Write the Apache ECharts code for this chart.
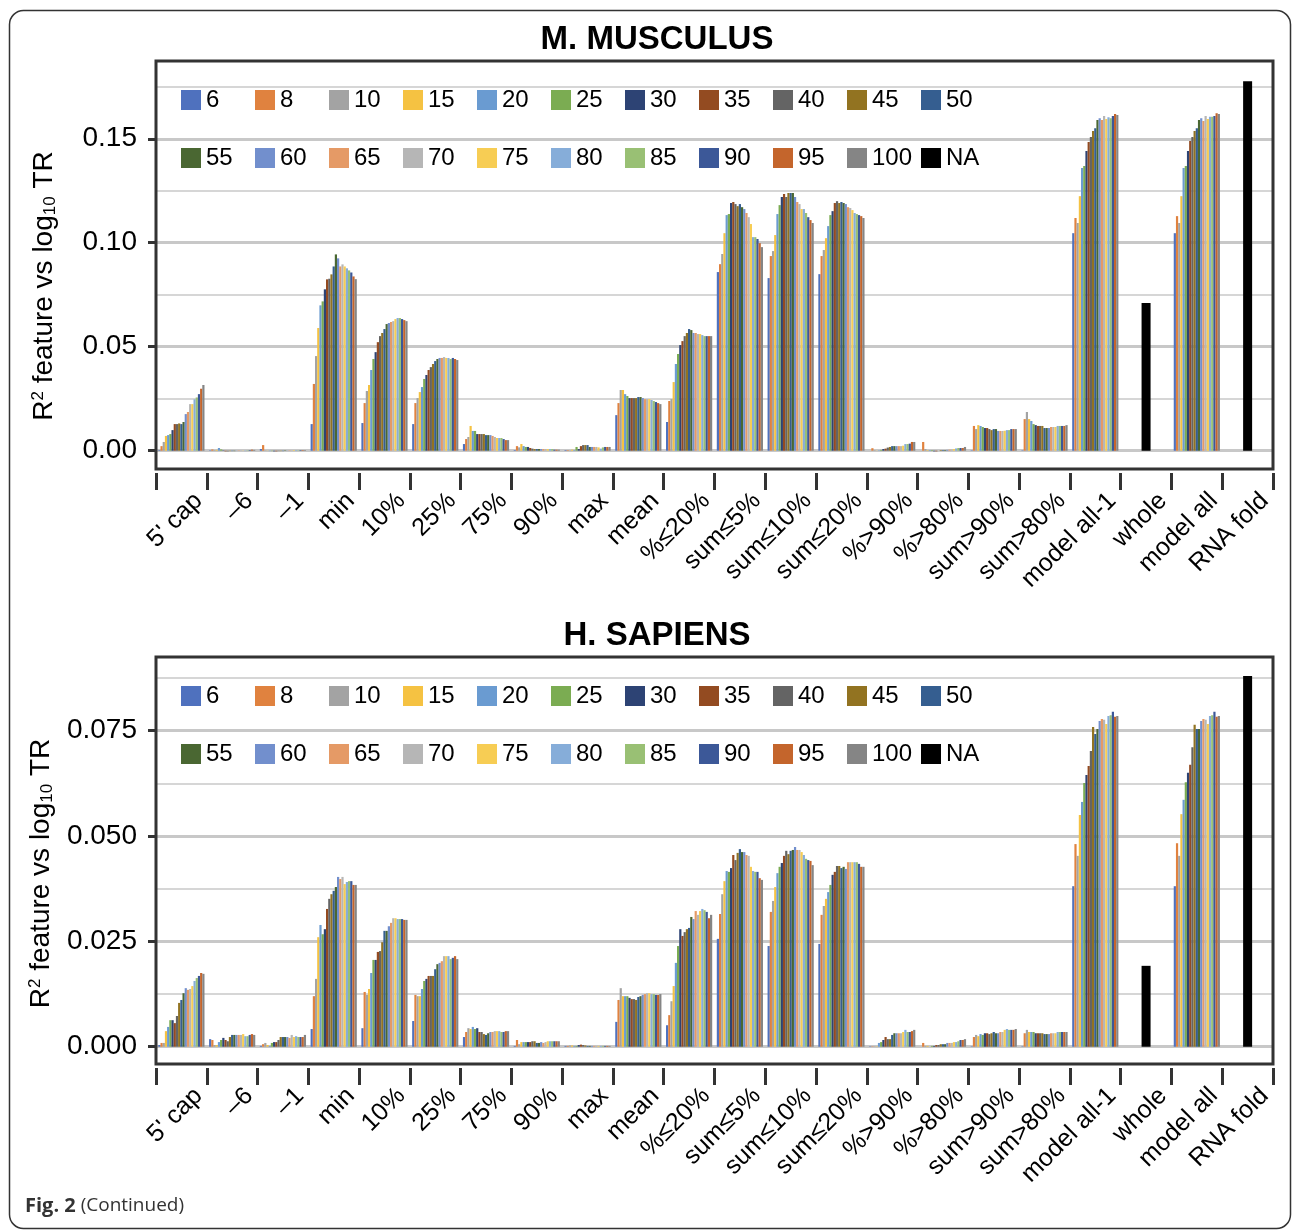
<!DOCTYPE html>
<html>
<head>
<meta charset="utf-8">
<script src="https://cdn.jsdelivr.net/npm/echarts@6/dist/echarts.min.js"></script>
<style>
  html, body { margin: 0; background: #fff; }
  #chart { width: 1292px; height: 1232px; }
</style>
</head>
<body>
<div id="chart"></div>
<script>
const categories = ["5' cap", "\u20136", "\u20131", "min", "10%", "25%", "75%", "90%", "max", "mean",
  "%\u226420%", "sum\u22645%", "sum\u226410%", "sum\u226420%", "%>90%", "%>80%", "sum>90%", "sum>80%",
  "model all-1", "whole", "model all", "RNA fold"];

const sizes = ["6", "8", "10", "15", "20", "25", "30", "35", "40", "45", "50",
  "55", "60", "65", "70", "75", "80", "85", "90", "95", "100"];

// one row per category, one value per size (null = category only has the NA bar)
const musculusRows = [
  [0.0003,0.0022,0.0042,0.0071,0.0075,0.0080,0.0099,0.0128,0.0128,0.0131,0.0128,0.0138,0.0176,0.0186,0.0224,0.0224,0.0247,0.0256,0.0272,0.0298,0.0316],
  [0.0002,0.0006,0.0003,0.0004,0.0013,0.0006,0.0002,-0.0003,-0.0003,-0.0002,-0.0002,-0.0002,0.0001,0.0002,0.0002,0.0001,-0.0002,0.0002,0.0003,0.0005,0.0004],
  [0.0008,0.0027,0.0002,0.0001,-0.0002,-0.0002,-0.0003,-0.0003,-0.0002,-0.0002,-0.0002,0.0002,0.0001,0.0002,0.0002,0.0003,0.0003,0.0002,0.0003,0.0003,0.0003],
  [0.0128,0.0321,0.0455,0.0590,0.0699,0.0718,0.0776,0.0824,0.0827,0.0848,0.0886,0.0944,0.0925,0.0886,0.0896,0.0886,0.0877,0.0867,0.0857,0.0838,0.0825],
  [0.0133,0.0229,0.0287,0.0316,0.0388,0.0441,0.0474,0.0522,0.0551,0.0566,0.0585,0.0609,0.0614,0.0619,0.0623,0.0633,0.0638,0.0638,0.0633,0.0628,0.0623],
  [0.0128,0.0229,0.0253,0.0282,0.0306,0.0345,0.0364,0.0388,0.0402,0.0417,0.0431,0.0441,0.0446,0.0446,0.0450,0.0446,0.0446,0.0441,0.0446,0.0441,0.0436],
  [0.0032,0.0056,0.0066,0.0119,0.0095,0.0095,0.0080,0.0080,0.0080,0.0080,0.0075,0.0075,0.0075,0.0071,0.0066,0.0061,0.0061,0.0061,0.0056,0.0051,0.0051],
  [0.0003,0.0022,0.0016,0.0032,0.0022,0.0018,0.0018,0.0013,0.0010,0.0008,0.0008,0.0008,0.0008,0.0008,0.0008,0.0008,0.0008,0.0008,0.0005,0.0005,0.0005],
  [0.0003,0.0003,0.0002,0.0005,0.0003,0.0018,0.0008,0.0022,0.0027,0.0027,0.0027,0.0018,0.0018,0.0018,0.0018,0.0016,0.0010,0.0016,0.0018,0.0018,0.0018],
  [0.0171,0.0229,0.0292,0.0292,0.0272,0.0263,0.0253,0.0253,0.0253,0.0253,0.0258,0.0258,0.0253,0.0248,0.0248,0.0248,0.0244,0.0239,0.0234,0.0229,0.0224],
  [0.0138,0.0239,0.0248,0.0330,0.0417,0.0465,0.0508,0.0527,0.0551,0.0566,0.0585,0.0580,0.0566,0.0566,0.0561,0.0561,0.0556,0.0551,0.0551,0.0551,0.0551],
  [0.0859,0.0897,0.0946,0.1046,0.1133,0.1138,0.1191,0.1196,0.1186,0.1176,0.1186,0.1171,0.1162,0.1143,0.1123,0.1090,0.1027,0.1027,0.1018,0.0998,0.0979],
  [0.0830,0.0936,0.0960,0.1037,0.1138,0.1181,0.1220,0.1234,0.1220,0.1239,0.1239,0.1239,0.1220,0.1196,0.1186,0.1162,0.1162,0.1143,0.1123,0.1109,0.1095],
  [0.0849,0.0936,0.0965,0.1022,0.1080,0.1133,0.1152,0.1191,0.1200,0.1191,0.1196,0.1191,0.1186,0.1171,0.1167,0.1157,0.1143,0.1138,0.1133,0.1128,0.1119],
  [0.0000,0.0012,0.0003,0.0001,0.0002,0.0004,0.0008,0.0010,0.0015,0.0018,0.0022,0.0022,0.0022,0.0022,0.0022,0.0024,0.0032,0.0032,0.0034,0.0042,0.0042],
  [0.0000,0.0042,0.0008,0.0003,0.0003,0.0003,-0.0003,-0.0003,0.0000,0.0003,0.0003,0.0003,0.0004,0.0005,0.0006,0.0008,0.0011,0.0013,0.0013,0.0013,0.0018],
  [0.0002,0.0119,0.0104,0.0123,0.0119,0.0114,0.0109,0.0109,0.0104,0.0099,0.0104,0.0104,0.0095,0.0095,0.0095,0.0096,0.0099,0.0099,0.0104,0.0104,0.0104],
  [0.0002,0.0152,0.0186,0.0152,0.0143,0.0128,0.0123,0.0119,0.0119,0.0119,0.0109,0.0109,0.0109,0.0114,0.0114,0.0114,0.0119,0.0119,0.0119,0.0119,0.0123],
  [0.1046,0.1119,0.1095,0.1224,0.1359,0.1369,0.1441,0.1484,0.1508,0.1537,0.1551,0.1590,0.1599,0.1590,0.1609,0.1595,0.1603,0.1599,0.1609,0.1619,0.1614],
  null,
  [0.1046,0.1128,0.1095,0.1224,0.1359,0.1369,0.1441,0.1489,0.1508,0.1537,0.1551,0.1590,0.1599,0.1585,0.1609,0.1595,0.1606,0.1606,0.1609,0.1623,0.1619],
  null
];
const musculusNA = [null,null,null,null,null,null,null,null,null,null,null,null,null,null,null,null,null,null,null,0.0710,null,0.1777];

const sapiensRows = [
  [0.0004,0.0009,0.0009,0.0037,0.0047,0.0063,0.0063,0.0056,0.0073,0.0104,0.0111,0.0127,0.0139,0.0135,0.0137,0.0144,0.0156,0.0163,0.0168,0.0175,0.0173],
  [0.0018,0.0016,0.0004,0.0004,0.0011,0.0016,0.0021,0.0016,0.0013,0.0023,0.0028,0.0028,0.0028,0.0028,0.0028,0.0030,0.0025,0.0025,0.0028,0.0030,0.0028],
  [0.0002,0.0006,0.0009,0.0004,0.0002,0.0009,0.0011,0.0011,0.0016,0.0023,0.0023,0.0023,0.0023,0.0021,0.0028,0.0023,0.0025,0.0023,0.0023,0.0023,0.0028],
  [0.0042,0.0120,0.0161,0.0260,0.0289,0.0267,0.0279,0.0327,0.0351,0.0362,0.0370,0.0379,0.0403,0.0398,0.0403,0.0386,0.0391,0.0393,0.0393,0.0384,0.0384],
  [0.0044,0.0130,0.0123,0.0137,0.0175,0.0206,0.0206,0.0225,0.0227,0.0248,0.0275,0.0275,0.0286,0.0294,0.0305,0.0305,0.0303,0.0303,0.0303,0.0301,0.0301],
  [0.0061,0.0123,0.0120,0.0120,0.0137,0.0156,0.0161,0.0168,0.0168,0.0168,0.0184,0.0196,0.0199,0.0203,0.0215,0.0215,0.0215,0.0208,0.0211,0.0215,0.0208],
  [0.0023,0.0035,0.0044,0.0042,0.0047,0.0042,0.0044,0.0035,0.0035,0.0030,0.0028,0.0032,0.0035,0.0035,0.0037,0.0037,0.0037,0.0035,0.0035,0.0037,0.0037],
  [0.0002,0.0016,0.0006,0.0011,0.0011,0.0011,0.0011,0.0011,0.0013,0.0013,0.0009,0.0009,0.0011,0.0009,0.0011,0.0013,0.0013,0.0013,0.0013,0.0013,0.0013],
  [0.0002,0.0002,0.0003,0.0003,0.0002,0.0002,0.0004,0.0005,0.0004,0.0003,0.0002,0.0002,0.0002,0.0002,0.0002,0.0002,0.0002,0.0002,0.0002,0.0002,0.0002],
  [0.0059,0.0111,0.0139,0.0120,0.0120,0.0120,0.0116,0.0113,0.0113,0.0111,0.0118,0.0120,0.0123,0.0125,0.0127,0.0127,0.0125,0.0125,0.0123,0.0123,0.0125],
  [0.0051,0.0075,0.0108,0.0144,0.0199,0.0239,0.0279,0.0263,0.0272,0.0279,0.0282,0.0308,0.0303,0.0322,0.0313,0.0322,0.0327,0.0324,0.0320,0.0305,0.0313],
  [0.0256,0.0315,0.0362,0.0393,0.0417,0.0415,0.0424,0.0455,0.0443,0.0460,0.0469,0.0462,0.0462,0.0455,0.0453,0.0427,0.0417,0.0415,0.0415,0.0400,0.0396],
  [0.0239,0.0320,0.0346,0.0379,0.0412,0.0427,0.0436,0.0453,0.0465,0.0457,0.0465,0.0467,0.0474,0.0467,0.0467,0.0462,0.0455,0.0446,0.0443,0.0441,0.0431],
  [0.0244,0.0313,0.0334,0.0351,0.0367,0.0384,0.0408,0.0415,0.0429,0.0429,0.0424,0.0427,0.0422,0.0438,0.0438,0.0438,0.0438,0.0438,0.0434,0.0427,0.0427],
  [0.0001,0.0001,0.0001,0.0001,0.0009,0.0011,0.0016,0.0023,0.0018,0.0018,0.0028,0.0032,0.0032,0.0032,0.0032,0.0035,0.0040,0.0035,0.0035,0.0037,0.0040],
  [0.0000,0.0009,0.0002,0.0002,0.0000,0.0002,0.0002,0.0004,0.0004,0.0006,0.0006,0.0006,0.0009,0.0009,0.0009,0.0011,0.0011,0.0013,0.0016,0.0016,0.0018],
  [0.0001,0.0023,0.0028,0.0025,0.0030,0.0028,0.0032,0.0032,0.0030,0.0032,0.0035,0.0032,0.0032,0.0035,0.0035,0.0040,0.0042,0.0040,0.0040,0.0040,0.0042],
  [0.0001,0.0032,0.0040,0.0035,0.0035,0.0035,0.0032,0.0032,0.0032,0.0032,0.0030,0.0030,0.0030,0.0032,0.0032,0.0032,0.0035,0.0035,0.0035,0.0035,0.0035],
  [0.0381,0.0481,0.0453,0.0550,0.0581,0.0626,0.0645,0.0666,0.0702,0.0759,0.0742,0.0754,0.0773,0.0778,0.0776,0.0766,0.0785,0.0787,0.0795,0.0783,0.0785],
  null,
  [0.0381,0.0483,0.0453,0.0552,0.0586,0.0628,0.0650,0.0669,0.0711,0.0764,0.0754,0.0754,0.0773,0.0778,0.0776,0.0766,0.0785,0.0787,0.0795,0.0783,0.0785],
  null
];
const sapiensNA = [null,null,null,null,null,null,null,null,null,null,null,null,null,null,null,null,null,null,null,0.0192,null,0.0880];

const musculusTicks = [0, 0.05, 0.10, 0.15];
const musculusMinorTicks = [0.025, 0.075, 0.125, 0.175];
const sapiensTicks = [0, 0.025, 0.050, 0.075];
const sapiensMinorTicks = [0.0125, 0.0375, 0.0625, 0.0875];

const colors = ["#4f71be", "#e0823f", "#a3a3a3", "#f5c242", "#6a9bd1", "#7bac52", "#2d4374",
  "#934b21", "#646464", "#927321", "#355e90", "#4a6732", "#728fcd", "#e59a66", "#b6b6b6",
  "#f7cd54", "#86add9", "#99c074", "#3c5898", "#c4652c", "#858585"];

const FONT = "'Liberation Sans', Arial, Helvetica, sans-serif";

const panels = [
  { title: "M. MUSCULUS", rows: musculusRows, na: musculusNA, ticks: musculusTicks, minor: musculusMinorTicks,
    digits: 2, top: 61, height: 408, min: -0.0088, max: 0.1874, titleY: 40, legendTop: 88, nameShift: 42 },
  { title: "H. SAPIENS", rows: sapiensRows, na: sapiensNA, ticks: sapiensTicks, minor: sapiensMinorTicks,
    digits: 3, top: 657, height: 407, min: -0.0041, max: 0.0925, titleY: 636, legendTop: 684, nameShift: 26 }
];

const chart = echarts.init(document.getElementById("chart"));

const grid = [], xAxis = [], yAxis = [], series = [], legend = [], graphic = [];

panels.forEach((p, k) => {
  grid.push({
    left: 156, right: 19, top: p.top, height: p.height,
    show: true, z: 5, backgroundColor: "transparent", borderColor: "#333", borderWidth: 3,
    outerBoundsMode: "none"
  });

  xAxis.push({
    gridIndex: k, type: "category", data: categories, offset: 4,
    axisLine: { show: false, onZero: false },
    axisTick: { show: true, interval: 0, length: 17, lineStyle: { color: "#333", width: 3 } },
    axisLabel: { interval: 0, rotate: 45, margin: 41, padding: [0, -24, 0, 0],
      fontSize: 25, color: "#000", fontFamily: FONT },
    splitLine: { show: false }
  });
  xAxis.push({ gridIndex: k, type: "category", data: categories, show: false });

  yAxis.push({
    gridIndex: k, type: "value", min: p.min, max: p.max,
    name: "R{sup|2} feature vs log{sub|10} TR", nameLocation: "middle", nameGap: 97, nameRotate: 90,
    nameTextStyle: {
      fontSize: 28, color: "#000", fontFamily: FONT, padding: [0, p.nameShift, 0, 0],
      rich: {
        sup: { fontSize: 17, color: "#000", fontFamily: FONT, verticalAlign: "bottom", padding: [0, 0, 12, 0] },
        sub: { fontSize: 17, color: "#000", fontFamily: FONT, verticalAlign: "top", padding: [13, 0, 0, 0] }
      }
    },
    axisLine: { show: false },
    axisTick: { show: true, length: 8, customValues: p.ticks, lineStyle: { color: "#333", width: 3 } },
    axisLabel: { customValues: p.ticks, margin: 19, fontSize: 28, color: "#000", fontFamily: FONT,
      formatter: v => v.toFixed(p.digits) },
    splitLine: { show: true, lineStyle: { color: "#c8c8c8", width: 3 } }
  });
  yAxis.push({
    gridIndex: k, type: "value", min: p.min, max: p.max, position: "left",
    axisLine: { show: false },
    axisTick: { show: false, customValues: p.minor },
    axisLabel: { show: false },
    splitLine: { show: true, lineStyle: { color: "#c8c8c8", width: 1.5 } }
  });

  sizes.forEach((s, i) => {
    series.push({
      type: "bar", name: s, xAxisIndex: 2 * k, yAxisIndex: 2 * k,
      data: p.rows.map(r => (r ? r[i] : null)),
      itemStyle: { color: colors[i] },
      barCategoryGap: "9%", barGap: "0%"
    });
  });
  series.push({
    type: "bar", name: "NA", xAxisIndex: 2 * k + 1, yAxisIndex: 2 * k,
    data: p.na, barWidth: 9, itemStyle: { color: "#000" }
  });

  const legendBase = {
    left: 181, padding: 0, icon: "rect", itemWidth: 20, itemHeight: 20, itemGap: 5,
    selectedMode: false, itemStyle: { borderWidth: 0 },
    textStyle: { fontSize: 24, color: "#000", fontFamily: FONT, width: 44, lineHeight: 20 }
  };
  legend.push(Object.assign({}, legendBase, { top: p.legendTop, data: sizes.slice(0, 11) }));
  legend.push(Object.assign({}, legendBase, { top: p.legendTop + 58, data: sizes.slice(11).concat("NA") }));

  graphic.push({
    type: "text", x: 657, y: p.titleY, silent: true,
    style: { text: p.title, fill: "#000", font: "bold 33px " + FONT, align: "center", verticalAlign: "middle" }
  });
});

graphic.push({
  type: "rect", silent: true, z: -1,
  shape: { x: 9.5, y: 10.5, width: 1281, height: 1218, r: 14 },
  style: { fill: "none", stroke: "#333", lineWidth: 1.5 }
});
graphic.push({
  type: "text", x: 25, y: 1206, silent: true,
  style: {
    text: "{b|Fig. 2} (Continued)", fill: "#333", font: "19px 'Open Sans', sans-serif",
    verticalAlign: "middle",
    rich: { b: { fontWeight: "bold", fontSize: 20, fontFamily: "'Open Sans', sans-serif", fill: "#333" } }
  }
});

chart.setOption({
  animation: false,
  backgroundColor: "#fff",
  grid, xAxis, yAxis, series, legend, graphic
});
</script>
</body>
</html>
